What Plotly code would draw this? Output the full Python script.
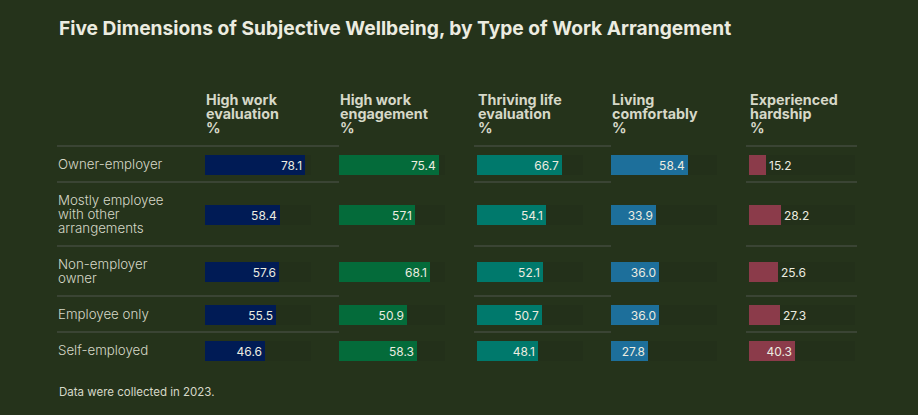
import plotly.graph_objects as go

# ---------------- data ----------------
title = "Five Dimensions of Subjective Wellbeing, by Type of Work Arrangement"
footer = "Data were collected in 2023."
categories = [
    ["Owner-employer"],
    ["Mostly employee", "with other", "arrangements"],
    ["Non-employer", "owner"],
    ["Employee only"],
    ["Self-employed"],
]
headers = [
    ["High work", "evaluation", "%"],
    ["High work", "engagement", "%"],
    ["Thriving life", "evaluation", "%"],
    ["Living", "comfortably", "%"],
    ["Experienced", "hardship", "%"],
]
high_work_evaluation = [78.1, 58.4, 57.6, 55.5, 46.6]
high_work_engagement = [75.4, 57.1, 68.1, 50.9, 58.3]
thriving_life_evaluation = [66.7, 54.1, 52.1, 50.7, 48.1]
living_comfortably = [58.4, 33.9, 36.0, 36.0, 27.8]
experienced_hardship = [15.2, 28.2, 25.6, 27.3, 40.3]
series = [high_work_evaluation, high_work_engagement, thriving_life_evaluation,
          living_comfortably, experienced_hardship]

# ---------------- style / layout ----------------
W, H = 918, 415
BG = "#25331b"
TRACK = "#23301a"
LINE = "#3a4434"
TXT = "#ecece0"
LBL = "#d6d8c8"
FONT = "Inter"
colors = ["#001b55", "#046b3a", "#00796c", "#1d6f9b", "#8b3b4a"]
col_start = [205, 339, 477, 611, 749]      # px
px_per_unit = [1.28, 1.33, 1.275, 1.32, 1.135]
col_w = 135                                  # px of axis domain
track_px = 106
bar_h = 20
left = 57
right = 857
header_bottom = 146

# row geometry from number of label lines
tops, centers = [], []
y = header_bottom
for lab in categories:
    h = 22 + 14 * len(lab)
    tops.append(y)
    centers.append(y + h / 2 + 0.5)
    y += h
bottom = y

fig = go.Figure()
for i, vals in enumerate(series):
    ax = "" if i == 0 else str(i + 1)
    track_val = track_px / px_per_unit[i]
    fig.add_trace(go.Bar(
        x=[track_val] * len(vals), y=centers, orientation="h", width=bar_h,
        marker=dict(color=TRACK, line=dict(width=0)), hoverinfo="skip",
        xaxis="x" + ax, yaxis="y", showlegend=False))
    positions = ["inside" if v * px_per_unit[i] > 34 else "outside" for v in vals]
    fig.add_trace(go.Bar(
        x=vals, y=centers, orientation="h", width=bar_h,
        marker=dict(color=colors[i], line=dict(width=0)),
        text=[f"{v:.1f}" for v in vals], textposition=positions,
        insidetextanchor="end", constraintext="none", cliponaxis=False,
        textfont=dict(family=FONT, size=12, color=TXT),
        xaxis="x" + ax, yaxis="y", showlegend=False))
    fig.layout["xaxis" + ax] = dict(
        domain=[col_start[i] / W, (col_start[i] + col_w) / W],
        range=[0, col_w / px_per_unit[i]], visible=False, fixedrange=True)

fig.update_layout(
    width=W, height=H, autosize=False,
    margin=dict(l=0, r=0, t=0, b=0),
    paper_bgcolor=BG, plot_bgcolor=BG,
    barmode="overlay", bargap=0,
    yaxis=dict(range=[H, 0], domain=[0, 1], visible=False, fixedrange=True),
    font=dict(family=FONT, color=TXT),
)

shapes = []
for yy in [header_bottom] + tops[1:]:
    shapes.append(dict(type="line", xref="paper", yref="y",
                       x0=left / W, x1=right / W, y0=yy, y1=yy,
                       line=dict(color=LINE, width=2), layer="below"))
fig.update_layout(shapes=shapes)

ann = []
ann.append(dict(text=title, x=left / W, y=28, xref="paper", yref="y",
                xanchor="left", yanchor="middle", showarrow=False,
                font=dict(family=FONT, size=19.2, color=TXT, weight="bold")))
for i, lines in enumerate(headers):
    for j, t in enumerate(lines):
        ann.append(dict(text=t, x=col_start[i] / W, y=99 + 14 * j, xref="paper", yref="y",
                        xanchor="left", yanchor="middle", showarrow=False, borderpad=0,
                        font=dict(family=FONT, size=14.3, color=LBL, weight="bold")))
for r, lines in enumerate(categories):
    n = len(lines)
    for j, t in enumerate(lines):
        ann.append(dict(text=t, x=left / W, y=centers[r] - 0.5 + 14 * (j - (n - 1) / 2),
                        xref="paper", yref="y", xanchor="left", yanchor="middle",
                        showarrow=False, borderpad=0,
                        font=dict(family=FONT, size=13.3, color=LBL, weight=300)))
ann.append(dict(text=footer, x=left / W, y=392, xref="paper", yref="y",
                xanchor="left", yanchor="middle", showarrow=False,
                font=dict(family=FONT, size=11.5, color=LBL)))
fig.update_layout(annotations=ann)

fig.write_html("out.html", config={"displayModeBar": False},
               post_script="document.body.style.margin='0';document.body.style.padding='0';")
